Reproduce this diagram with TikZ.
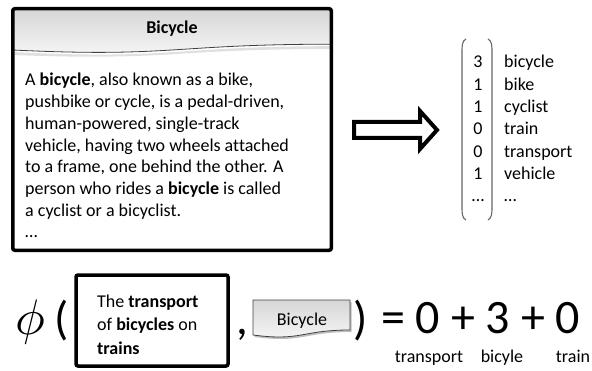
\documentclass[tikz,border=0pt]{standalone}
\usepackage{fontspec}
\setmainfont{Carlito}[Ligatures=NoCommon]
\begin{document}
\begin{tikzpicture}[x=1pt,y=1pt,
  txt/.style={font=\fontsize{18}{21.7}\selectfont, inner sep=0pt},
  big/.style={font=\fontsize{47}{50}\selectfont, inner sep=0pt},
  frame/.style={draw=black, line width=3.5pt, rounded corners=2pt, inner sep=0pt},
  docfill/.style={top color=gray!32, bottom color=gray!6},
  docline/.style={draw=black!75, line width=0.8pt},
  bracket/.style={draw=black!60, line width=1.1pt},
  blockarrow/.style={draw=black, line width=4pt, fill=white, miter limit=10}]
\useasboundingbox (0,0) rectangle (592,370);

% ---------- document card with header ----------
\coordinate (hNW) at (12.75,361.25);
\coordinate (hNE) at (331.25,361.25);
\coordinate (hSE) at (331.25,325.8);
\coordinate (hSW) at (12.75,320);
\fill[black, opacity=0.12] (12.75,318) .. controls (172,309.8) and (172,323.8) .. (331.25,323.8)
   -- (331.25,321) .. controls (172,321) and (172,309) .. (12.75,315) -- cycle;
\path[docfill] (hNW) -- (hNE) -- (hSE) .. controls (172,325.8) and (172,312.3) .. (hSW) -- cycle;
\draw[docline] (hSE) .. controls (172,325.8) and (172,312.3) .. (hSW);
\node[frame, minimum width=318.5, minimum height=241.5] (doc) at (172,240.5) {};
\node[txt, font=\fontsize{18}{21.7}\selectfont\bfseries, anchor=base] (title) at (172,336) {Bicycle};

\foreach \t [count=\i from 0] in {
  {A \textbf{bicycle}, also known as a bike,},
  {pushbike or cycle, is a pedal-driven,},
  {human-powered, single-track},
  {vehicle, having two wheels attached},
  {to a frame, one behind the other. A},
  {person who rides a \textbf{bicycle} is called},
  {a cyclist or a bicyclist.},
  {…}}
  \node[txt, anchor=base west] (body\i) at (25,284-21.7*\i) {\t};

% ---------- hollow block arrow ----------
\coordinate (arr) at (354,240);
\draw[blockarrow] (arr) ++(0,8) -- ++(66,0) -- ++(0,11) -- (437,240) -- (420,221) -- ++(0,11) -- (354,232) -- cycle;

% ---------- term vector ----------
\foreach \n/\w [count=\i from 0] in {3/bicycle,1/bike,1/cyclist,0/train,0/transport,1/vehicle,…/…} {
  \node[txt, anchor=base] (num\i) at (478,302-22.3*\i) {\n};
  \node[txt, anchor=base west] (term\i) at (504,302-22.3*\i) {\w};
}
\draw[bracket] (466,331) .. controls (462,329) and (462,324) .. (462,318) -- (462,163)
   .. controls (462,157) and (462,152) .. (466,150);
\draw[bracket] (488,331) .. controls (492,329) and (492,324) .. (492,318) -- (492,163)
   .. controls (492,157) and (492,152) .. (488,150);

% ---------- similarity expression ----------
\node[inner sep=0pt, scale=5.0, anchor=base] (phi) at (30,36) {$\phi$};
\node[big, anchor=base] (lpar) at (62,36) {(};

\node[frame, minimum width=152, minimum height=91] (query) at (152,49.5) {};
\node[txt, anchor=base west] (q0) at (97,63) {The \textbf{transport}};
\node[txt, anchor=base west] (q1) at (97,39.5) {of \textbf{bicycles} on};
\node[txt, anchor=base west] (q2) at (97,16) {\textbf{trains}};

\node[big, anchor=base] (comma) at (242,36) {,};

% small document card
\fill[black, opacity=0.25] (254.5,68) -- (351.5,68) -- (351.5,38)
  .. controls (303,38) and (303,26.5) .. (254.5,33) -- cycle;
\path[docfill, docline] (253,70) -- (350,70) -- (350,40)
  .. controls (301.5,40) and (301.5,28.5) .. (253,35) -- cycle;
\node[txt, anchor=base] (card) at (302,45) {Bicycle};

\node[big, anchor=base] (rpar) at (361,36) {)};
\node[big, anchor=base west, font=\fontsize{48}{50}\selectfont] (eq) at (381,37) {= 0 + 3 + 0};

\node[txt, anchor=base] (l1) at (429,8) {transport};
\node[txt, anchor=base] (l2) at (502,8) {bicyle};
\node[txt, anchor=base] (l3) at (573,8) {train};
\end{tikzpicture}
\end{document}
